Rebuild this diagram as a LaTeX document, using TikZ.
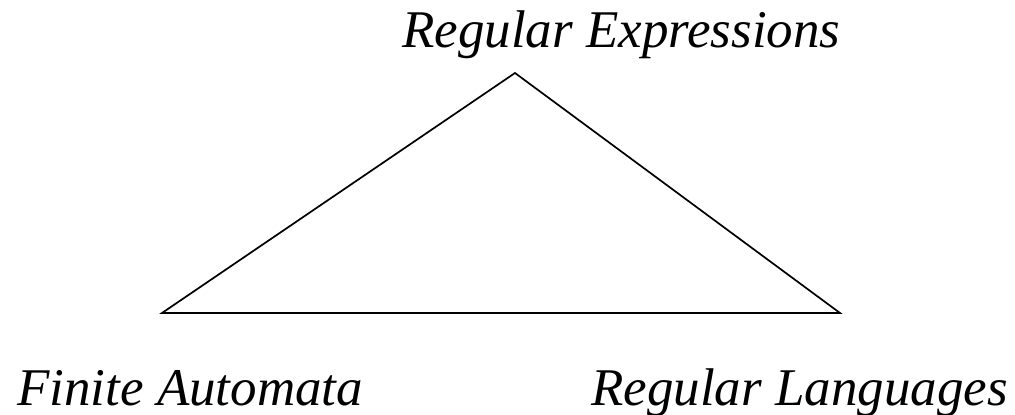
\documentclass[tikz,border=0pt]{standalone}
\usepackage{fontspec}
\setmainfont{Liberation Serif}
\begin{document}
\begin{tikzpicture}[x=1pt,y=-1pt,
  lbl/.style={anchor=base west,inner sep=0pt,font=\fontsize{53}{63}\selectfont\itshape},
  edge/.style={line width=1.7pt,line join=miter}]
\useasboundingbox (0,0) rectangle (1015,415);
\coordinate (top) at (515,73);
\coordinate (bl) at (162,313);
\coordinate (br) at (840,313);
\draw[edge] (top) -- (bl) -- (br) -- cycle;
\node[lbl] (re) at (402,47) {Regular Expressions};
\node[lbl] (fa) at (17,405) {Finite Automata};
\node[lbl] (rl) at (591,405) {Regular Languages};
\end{tikzpicture}
\end{document}
